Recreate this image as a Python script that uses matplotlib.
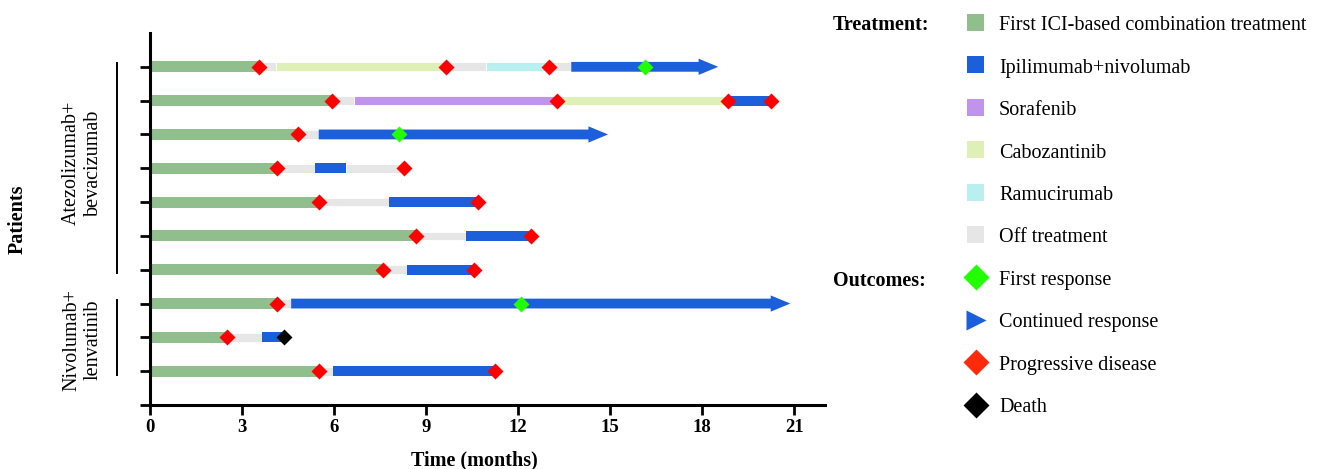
import matplotlib
matplotlib.use("Agg")
import matplotlib.pyplot as plt
import matplotlib.transforms as mtransforms
from matplotlib.patches import Rectangle

plt.rcParams['font.family'] = ['Liberation Serif', 'DejaVu Serif']

# ---------------- data ----------------
treatments = ["First ICI-based combination treatment", "Ipilimumab+nivolumab",
              "Sorafenib", "Cabozantinib", "Ramucirumab", "Off treatment"]
treat_colors = ["#90BE8C", "#1B5FDB", "#C093EC", "#DEF0B6", "#B8F0EF", "#E6E6E6"]

# segments: patient row (1 = bottom), start month, end month, treatment index
seg_patient = [10, 10, 10, 10, 10, 10,
               9, 9, 9, 9, 9,
               8, 8,
               7, 7, 7, 7,
               6, 6, 6,
               5, 5, 5,
               4, 4, 4,
               3, 3,
               2, 2, 2,
               1, 1, 1]
seg_start = [0.0, 3.55, 4.10, 9.65, 10.95, 13.00,
             0.0, 5.93, 6.65, 13.27, 18.85,
             0.0, 4.83,
             0.0, 4.14, 5.38, 6.39,
             0.0, 5.51, 7.79,
             0.0, 8.67, 10.30,
             0.0, 7.60, 8.38,
             0.0, 4.14,
             0.0, 2.51, 3.65,
             0.0, 5.51, 5.97]
seg_end = [3.55, 4.10, 9.65, 10.95, 13.00, 13.73,
           5.93, 6.65, 13.27, 18.85, 20.25,
           4.83, 5.50,
           4.14, 5.38, 6.39, 8.28,
           5.51, 7.79, 10.69,
           8.67, 10.30, 12.42,
           7.60, 8.38, 10.56,
           4.14, 4.60,
           2.51, 3.65, 4.37,
           5.51, 5.97, 11.25]
seg_treat = [0, 5, 3, 5, 4, 5,
             0, 5, 2, 3, 1,
             0, 5,
             0, 5, 1, 5,
             0, 5, 1,
             0, 5, 1,
             0, 5, 1,
             0, 5,
             0, 5, 1,
             0, 5, 1]

# continued-response arrows (ipilimumab+nivolumab ongoing)
arrow_patient = [10, 8, 3]
arrow_start = [13.73, 5.50, 4.60]
arrow_tip = [18.52, 14.93, 20.87]

# outcome events
outcomes = ["First response", "Continued response", "Progressive disease", "Death"]
ev_patient = [10, 10, 10, 10,
              9, 9, 9, 9,
              8, 8,
              7, 7,
              6, 6,
              5, 5,
              4, 4,
              3, 3,
              2, 2,
              1, 1]
ev_time = [3.55, 9.65, 13.00, 16.13,
           5.93, 13.27, 18.85, 20.25,
           4.83, 8.12,
           4.14, 8.28,
           5.51, 10.69,
           8.67, 12.42,
           7.60, 10.56,
           4.14, 12.10,
           2.51, 4.37,
           5.51, 11.25]
ev_type = ["PD", "PD", "PD", "FR",
           "PD", "PD", "PD", "PD",
           "PD", "FR",
           "PD", "PD",
           "PD", "PD",
           "PD", "PD",
           "PD", "PD",
           "PD", "FR",
           "PD", "Death",
           "PD", "PD"]
ev_colors = {"FR": "#22FF00", "PD": "#FF0000", "Death": "#000000"}

groups = ["Atezolizumab+\nbevacizumab", "Nivolumab+\nlenvatinib"]
group_first = [10, 3]
group_last = [4, 1]
group_label_y = [7.15, 1.92]

x_ticks = [0, 3, 6, 9, 12, 15, 18, 21]

# ---------------- figure ----------------
fig = plt.figure(figsize=(13.24, 4.69), dpi=100)
ax = fig.add_axes([150 / 1324, 1 - 405 / 469, 675 / 1324, 372 / 469])

for p, s, e, t in zip(seg_patient, seg_start, seg_end, seg_treat):
    h = 0.32 if t == 0 else (0.29 if t == 1 else 0.26)
    ax.barh(p, e - s, left=s, height=h, color=treat_colors[t],
            edgecolor="white" if t not in (0, 1) else "none",
            linewidth=0.6, zorder=2)

for p, s, tip in zip(arrow_patient, arrow_start, arrow_tip):
    ax.arrow(s, p, tip - s, 0, width=0.29, head_width=0.48, head_length=0.64,
             length_includes_head=True, color=treat_colors[1], lw=0, zorder=3)

for p, tm, ty in zip(ev_patient, ev_time, ev_type):
    ax.plot(tm, p, marker="D", ms=7.8, color=ev_colors[ty], mec="none",
            zorder=5, clip_on=False)

ax.set_xlim(0, 22)
ax.set_ylim(0, 11)
ax.set_xticks(x_ticks)
ax.set_xticklabels([str(v) for v in x_ticks], fontsize=13.5, fontweight="bold")
ax.set_yticks(range(0, 11))
ax.set_yticklabels([])
for s in ["top", "right"]:
    ax.spines[s].set_visible(False)
for s in ["left", "bottom"]:
    ax.spines[s].set_linewidth(2.2)
ax.tick_params(axis="both", width=2.0, length=7, direction="out", pad=3)

ax.set_xlabel("Time (months)", fontsize=14.5, fontweight="bold")
ax.xaxis.set_label_coords(0.48, -0.123)
ax.set_ylabel("Patients", fontsize=14.5, fontweight="bold", va="center")
ax.yaxis.set_label_coords(-0.196, 0.5)

bt = mtransforms.blended_transform_factory(ax.transAxes, ax.transData)
for g, a, b, gy in zip(groups, group_first, group_last, group_label_y):
    ax.plot([-0.049, -0.049], [a + 0.1, b - 0.1], color="black", lw=1.4,
            transform=bt, clip_on=False)
    ax.text(-0.1, gy, g, rotation=90, ha="center", va="center",
            fontsize=14.5, transform=bt, linespacing=1.2)

# ---------------- legend (drawn in figure pixel space) ----------------
lax = fig.add_axes([0, 0, 1, 1])
lax.set_xlim(0, 1324)
lax.set_ylim(469, 0)
lax.axis("off")

row0, dy = 22.5, 42.5
lax.text(833, row0 + 3, "Treatment:", fontsize=14.5, fontweight="bold", va="center", ha="left")
for i, (lab, c) in enumerate(zip(treatments, treat_colors)):
    y = row0 + i * dy
    lax.add_patch(Rectangle((967, y - 8.5), 17, 17, color=c, lw=0))
    lax.text(999, y + 3, lab, fontsize=14.5, va="center", ha="left")

out_markers = ["D", ">", "D", "D"]
out_colors = ["#22FF00", "#1B5FDB", "#FF2A0A", "#000000"]
out_ms = [13, 14, 13, 13]
y_out = row0 + 6 * dy
lax.text(833, y_out + 3, "Outcomes:", fontsize=14.5, fontweight="bold", va="center", ha="left")
for i, (lab, m, c, ms) in enumerate(zip(outcomes, out_markers, out_colors, out_ms)):
    y = y_out + i * dy
    lax.plot(975.5, y, marker=m, ms=ms, color=c, mec="none")
    lax.text(999, y + 3, lab, fontsize=14.5, va="center", ha="left")

fig.savefig("out.png", dpi=100)
